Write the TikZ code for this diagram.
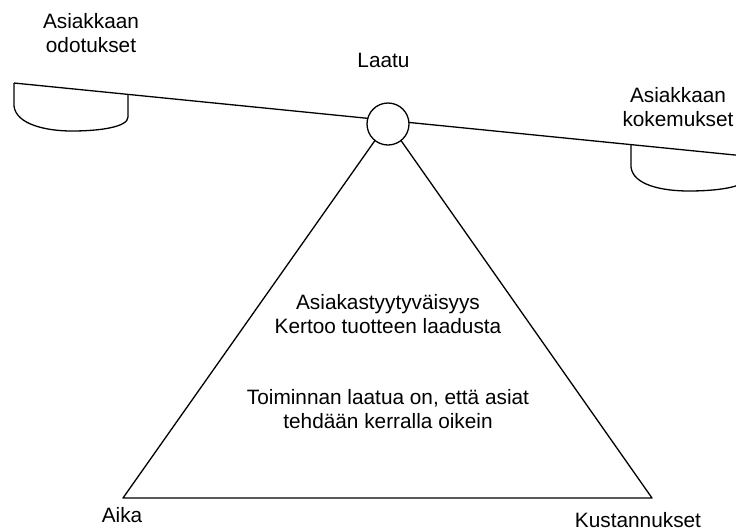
\documentclass[tikz,border=0pt]{standalone}
\usepackage{fontspec}
\setmainfont{Liberation Sans}
\begin{document}
\begin{tikzpicture}[x=1pt,y=-1pt,
  lbl/.style={inner sep=0pt, align=center, anchor=base, font=\fontsize{20.8}{24}\selectfont},
  ln/.style={line width=1.3pt, line join=round}]
\useasboundingbox (0,0) rectangle (736,531);
\clip (0,0) rectangle (736,531);
% triangle corners
\coordinate (apex) at (388,122);
\coordinate (aika) at (123,498);
\coordinate (kust) at (652,498);
\draw[ln] (aika) -- (apex) -- (kust) -- cycle;
% beam
\coordinate (bl) at (14,83);
\coordinate (br) at (745,156);
\draw[ln] (bl) -- (br);
% left bowl
\draw[ln] (14,83) -- (14,106) .. controls (16,124) and (45,131) .. (72,131)
  .. controls (100,131) and (128,127) .. (128,117) -- (128,94);
% right bowl
\draw[ln] (631,144) -- (631,167) .. controls (633,185) and (662,191) .. (689,191)
  .. controls (717,191) and (745,187) .. (745,179) -- (745,156);
% pivot
\node[circle, draw, fill=white, line width=1.3pt, minimum size=42pt, inner sep=0pt] (pivot) at (388,124) {};
% labels (base anchor = baseline of last line)
\node[lbl] (odot) at (91,52) {Asiakkaan\\odotukset};
\node[lbl] (laatu) at (383.5,67) {Laatu};
\node[lbl] (koke) at (678,126) {Asiakkaan\\kokemukset};
\node[lbl] (ast) at (388,333) {Asiakastyytyväisyys\\Kertoo tuotteen laadusta};
\node[lbl] (toim) at (388,428) {Toiminnan laatua on, että asiat\\tehdään kerralla oikein};
\node[lbl] (aikat) at (122,522) {Aika};
\node[lbl] (kustt) at (638,527.5) {Kustannukset};
\end{tikzpicture}
\end{document}
